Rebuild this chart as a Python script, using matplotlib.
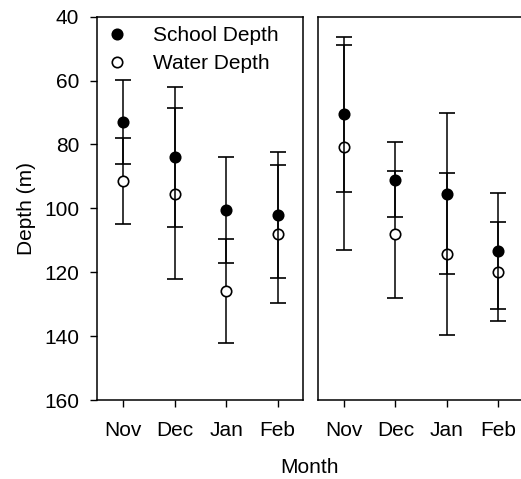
import numpy as np
import matplotlib.pyplot as plt
from matplotlib.lines import Line2D

plt.rcParams['font.family'] = ['Liberation Sans', 'DejaVu Sans']

months = ['Nov', 'Dec', 'Jan', 'Feb']

# left panel
school_left = [72.9, 84.0, 100.5, 102.1]
school_left_sd = [13.1, 21.9, 16.5, 19.8]
water_left = [91.4, 95.4, 125.9, 108.0]
water_left_sd = [13.5, 26.7, 16.2, 21.5]

# right panel
school_right = [70.6, 91.0, 95.5, 113.3]
school_right_sd = [24.4, 11.8, 25.2, 18.2]
water_right = [80.8, 108.1, 114.3, 119.8]
water_right_sd = [32.1, 19.9, 25.5, 15.5]

fig = plt.figure(figsize=(5.21, 4.79), dpi=100)
ax1 = fig.add_axes([0.1868, 0.1649, 0.3954, 0.8002])
ax2 = fig.add_axes([0.611, 0.1649, 0.3948, 0.8002])

x = np.arange(1, 5)


def draw(ax, school, school_sd, water, water_sd):
    ax.errorbar(x, water, yerr=water_sd, fmt='o', color='black', mfc='white',
                mec='black', ms=7.5, mew=1.2, elinewidth=1.1, capsize=6,
                capthick=1.1, zorder=3)
    ax.errorbar(x, school, yerr=school_sd, fmt='o', color='black', mfc='black',
                mec='black', ms=7.5, mew=1.2, elinewidth=1.1, capsize=6,
                capthick=1.1, zorder=4)
    ax.set_xlim(0.5, 4.5)
    ax.set_ylim(160, 40)
    ax.set_xticks(x)
    ax.set_xticklabels(months, fontsize=15)
    ax.tick_params(axis='x', direction='out', length=5, width=1, pad=10)
    for s in ax.spines.values():
        s.set_linewidth(1.1)


draw(ax1, school_left, school_left_sd, water_left, water_left_sd)
draw(ax2, school_right, school_right_sd, water_right, water_right_sd)

ax1.set_yticks(np.arange(40, 161, 20))
ax1.tick_params(axis='y', direction='out', length=5, width=1, labelsize=15, pad=8)
ax1.set_ylabel('Depth (m)', fontsize=15, labelpad=6)
ax2.set_yticks([])

handles = [
    Line2D([], [], ls='none', marker='o', ms=7.5, mfc='black', mec='black', mew=1.2),
    Line2D([], [], ls='none', marker='o', ms=7.5, mfc='white', mec='black', mew=1.2),
]
ax1.legend(handles, ['School Depth', 'Water Depth'], loc='upper left',
           bbox_to_anchor=(0, 1.0), frameon=False, fontsize=15, handlelength=1,
           handletextpad=1.2, borderaxespad=0, borderpad=0.45, labelspacing=0.45)

fig.text(0.595, 0.023, 'Month', ha='center', va='center', fontsize=15)

fig.savefig('out.png', dpi=100)
